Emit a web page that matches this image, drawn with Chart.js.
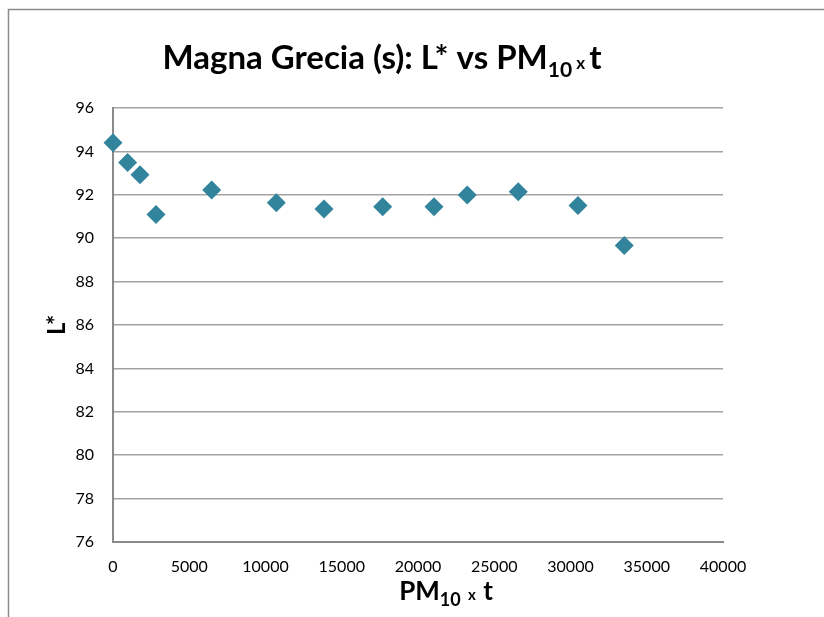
<!DOCTYPE html>
<html>
<head>
<meta charset="utf-8">
<script src="https://cdn.jsdelivr.net/npm/chart.js@4/dist/chart.umd.min.js"></script>
<style>
  body { margin: 0; background: #fff; }
  #wrap { position: relative; width: 824px; height: 617px; }
</style>
</head>
<body>
<div id="wrap"><canvas id="lChart" width="824" height="617"></canvas></div>
<script>
// PM10 x t exposure vs lightness L*
const pmTimes = [0, 960, 1770, 2820, 6470, 10710, 13835, 17685, 21050, 23230, 26575, 30490, 33525];
const lValues = [94.4, 93.49, 92.92, 91.09, 92.22, 91.63, 91.34, 91.45, 91.45, 91.99, 92.14, 91.51, 89.66];
const xTicks = [0, 5000, 10000, 15000, 20000, 25000, 30000, 35000, 40000];
const yTicks = [76, 78, 80, 82, 84, 86, 88, 90, 92, 94, 96];

const FONT = 'Lato, "Open Sans", sans-serif';
const INK = '#000';

// title pieces: [text, size, baseline shift]
const titleRuns = [['Magna Grecia (s): L* vs PM', 33, 0], ['10', 21, 8], [' x ', 17, 0], ['t', 33, 0]];
const xTitleRuns = [['PM', 26, 0], ['10', 18, 6], ['  x  ', 15, 0], ['t', 26, 0]];
const yTitle = 'L*';

function drawRuns(ctx, runs, cx, baseY) {
    let total = 0;
    runs.forEach(r => {
        ctx.font = 'bold ' + r[1] + 'px ' + FONT;
        total += ctx.measureText(r[0]).width;
    });
    let x = cx - total / 2;
    runs.forEach(r => {
        ctx.font = 'bold ' + r[1] + 'px ' + FONT;
        ctx.fillText(r[0], x, baseY + r[2]);
        x += ctx.measureText(r[0]).width;
    });
}

const textPlugin = {
    id: 'texts',
    beforeDraw(chart) {
        const ctx = chart.ctx;
        ctx.save();
        ctx.fillStyle = '#fff';
        ctx.fillRect(0, 0, chart.width, chart.height);
        // outer frame
        ctx.strokeStyle = '#8c8c8c';
        ctx.lineWidth = 1.5;
        ctx.beginPath();
        ctx.moveTo(8.5, chart.height + 2);
        ctx.lineTo(8.5, 9.5);
        ctx.lineTo(chart.width + 2, 9.5);
        ctx.stroke();
        ctx.restore();
    },
    afterDraw(chart) {
        const ctx = chart.ctx;
        const area = chart.chartArea;
        ctx.save();
        ctx.fillStyle = INK;
        ctx.textAlign = 'left';
        ctx.textBaseline = 'alphabetic';
        drawRuns(ctx, titleRuns, 382, 69);
        drawRuns(ctx, xTitleRuns, 446, 600);
        // y title
        ctx.translate(57, (area.top + area.bottom) / 2);
        ctx.rotate(-Math.PI / 2);
        ctx.textAlign = 'center';
        ctx.textBaseline = 'middle';
        ctx.font = 'bold 24px ' + FONT;
        ctx.fillText(yTitle, 0, 0);
        ctx.restore();
    }
};

new Chart(document.getElementById('lChart'), {
    type: 'scatter',
    data: {
        datasets: [{
            data: pmTimes.map((t, i) => ({ x: t, y: lValues[i] })),
            pointStyle: 'rectRot',
            pointRadius: 9.5,
            pointHoverRadius: 9.5,
            backgroundColor: '#31849b',
            borderColor: '#31849b',
            borderWidth: 0,
            clip: false
        }]
    },
    options: {
        responsive: false,
        animation: false,
        layout: { padding: { top: 108, right: 101, bottom: 0, left: 0 } },
        plugins: {
            legend: { display: false },
            tooltip: { enabled: false }
        },
        scales: {
            x: {
                type: 'linear',
                min: 0,
                max: 40000,
                afterFit: s => { s.height = 75; },
                afterBuildTicks: s => { s.ticks = xTicks.map(v => ({ value: v })); },
                grid: { display: false, drawTicks: false },
                border: { color: '#8a8a8a', width: 2 },
                ticks: {
                    padding: 15, color: INK, maxRotation: 0,
                    font: { family: FONT, size: 16 },
                    callback: v => String(v)
                }
            },
            y: {
                min: 76,
                max: 96,
                afterFit: s => { s.width = 113; },
                afterBuildTicks: s => { s.ticks = yTicks.map(v => ({ value: v })); },
                grid: { color: '#a3a3a3', lineWidth: 1.5, drawTicks: false },
                border: { color: '#8a8a8a', width: 2 },
                ticks: {
                    padding: 19, color: INK,
                    font: { family: FONT, size: 16 },
                    callback: v => String(v)
                }
            }
        }
    },
    plugins: [textPlugin]
});
</script>
</body>
</html>
